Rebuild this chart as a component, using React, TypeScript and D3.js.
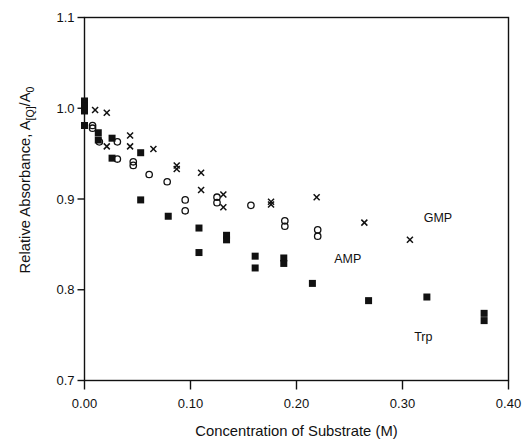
import React from "react";
import * as d3 from "d3";

const trpX = [0, 0, 0, 0, 0.013, 0.013, 0.026, 0.026, 0.053, 0.053, 0.079, 0.108, 0.108, 0.134, 0.134, 0.161, 0.161, 0.188, 0.188, 0.215, 0.268, 0.323, 0.377, 0.377];
const trpY = [1.008, 1.003, 0.997, 0.981, 0.973, 0.965, 0.967, 0.945, 0.951, 0.899, 0.881, 0.868, 0.841, 0.86, 0.855, 0.837, 0.824, 0.835, 0.829, 0.807, 0.788, 0.792, 0.774, 0.766];

const ampX = [0.0076, 0.0076, 0.014, 0.031, 0.031, 0.046, 0.046, 0.061, 0.078, 0.095, 0.095, 0.125, 0.125, 0.157, 0.189, 0.189, 0.22, 0.22];
const ampY = [0.981, 0.978, 0.963, 0.963, 0.944, 0.941, 0.937, 0.927, 0.919, 0.899, 0.887, 0.902, 0.896, 0.893, 0.876, 0.87, 0.866, 0.859];

const gmpX = [0.01, 0.021, 0.021, 0.043, 0.043, 0.065, 0.087, 0.087, 0.11, 0.11, 0.131, 0.131, 0.176, 0.176, 0.219, 0.264, 0.307];
const gmpY = [0.998, 0.995, 0.958, 0.97, 0.958, 0.955, 0.937, 0.933, 0.929, 0.91, 0.905, 0.891, 0.897, 0.894, 0.902, 0.874, 0.855];

const xTicks = [0, 0.1, 0.2, 0.3, 0.4];
const yTicks = [0.7, 0.8, 0.9, 1.0, 1.1];

const seriesLabels = ["GMP", "AMP", "Trp"];
const labelX = [0.32, 0.2355, 0.311];
const labelY = [0.875, 0.83, 0.744];

const W = 523;
const H = 443;
const left = 84.5;
const right = 508.5;
const top = 17.5;
const bottom = 380.5;

export default function App() {
  const x = d3.scaleLinear().domain([0, 0.4]).range([left, right]);
  const y = d3.scaleLinear().domain([0.7, 1.1]).range([bottom, top]);
  const font = "'Liberation Sans', Arial, sans-serif";
  const ink = "#111";

  return (
    <svg width={W} height={H} style={{ position: "absolute", left: 0, top: 0, background: "#fff" }} fontFamily={font}>
      <rect x={0} y={0} width={W} height={H} fill="#fff" />
      {/* frame */}
      <rect x={left} y={top} width={right - left} height={bottom - top} fill="none" stroke={ink} strokeWidth={1.4} />
      {/* x ticks */}
      {xTicks.map((t) => (
        <g key={"xt" + t}>
          <line x1={x(t)} x2={x(t)} y1={bottom} y2={bottom + 9} stroke={ink} strokeWidth={1.4} />
          <text x={x(t)} y={bottom + 27} textAnchor="middle" fontSize={13} fill={ink}>
            {t.toFixed(2)}
          </text>
        </g>
      ))}
      {/* y ticks */}
      {yTicks.map((t) => (
        <g key={"yt" + t}>
          <line x1={left - 7} x2={left} y1={y(t)} y2={y(t)} stroke={ink} strokeWidth={1.4} />
          <text x={left - 10} y={y(t) + 4.5} textAnchor="end" fontSize={13} fill={ink}>
            {t.toFixed(1)}
          </text>
        </g>
      ))}
      {/* axis titles */}
      <text x={(left + right) / 2} y={436} textAnchor="middle" fontSize={14.8} fill={ink}>
        Concentration of Substrate (M)
      </text>
      <text transform={`translate(30,180) rotate(-90)`} textAnchor="middle" fontSize={14.8} fill={ink}>
        Relative Absorbance, A
        <tspan fontSize={10.5} dy={4}>[Q]</tspan>
        <tspan dy={-4}>/A</tspan>
        <tspan fontSize={10.5} dy={4}>0</tspan>
      </text>
      {/* Trp squares */}
      {trpX.map((v, i) => (
        <rect key={"t" + i} x={x(v) - 3.5} y={y(trpY[i]) - 3.5} width={7} height={7} fill="#111" />
      ))}
      {/* AMP circles */}
      {ampX.map((v, i) => (
        <circle key={"a" + i} cx={x(v)} cy={y(ampY[i])} r={3.2} fill="none" stroke={ink} strokeWidth={1.3} />
      ))}
      {/* GMP crosses */}
      {gmpX.map((v, i) => {
        const cx = x(v);
        const cy = y(gmpY[i]);
        const s = 3;
        return (
          <g key={"g" + i} stroke={ink} strokeWidth={1.5}>
            <line x1={cx - s} y1={cy - s} x2={cx + s} y2={cy + s} />
            <line x1={cx - s} y1={cy + s} x2={cx + s} y2={cy - s} />
          </g>
        );
      })}
      {/* labels */}
      {seriesLabels.map((l, i) => (
        <text key={l} x={x(labelX[i])} y={y(labelY[i])} fontSize={12.5} fill={ink}>
          {l}
        </text>
      ))}
    </svg>
  );
}
